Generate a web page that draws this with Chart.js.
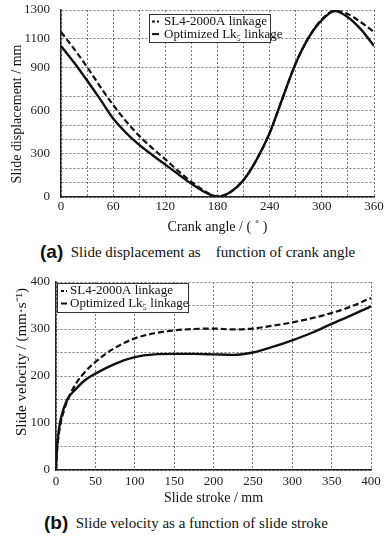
<!DOCTYPE html>
<html>
<head>
<meta charset="utf-8">
<script src="https://cdn.jsdelivr.net/npm/chart.js@4.4.0/dist/chart.umd.min.js"></script>
<style>
  body { margin: 0; background: #fff; width: 392px; height: 540px; position: relative; overflow: hidden; font-family: "Liberation Serif", serif; color: #111; }
  .wrap { position: absolute; left: 0; width: 392px; }
  #wrapA { top: 0; height: 240px; }
  #wrapB { top: 270px; height: 240px; }
  .cap { position: absolute; white-space: pre; font-size: 15px; line-height: 20px; }
  .cap b { font-family: "Liberation Sans", Arial, sans-serif; font-size: 19px; vertical-align: -1px; }
</style>
</head>
<body>
<div class="wrap" id="wrapA"><canvas id="chartA" width="392" height="240"></canvas></div>
<div class="cap" id="capA" style="left:40px;top:242px"><b>(a)</b>  Slide displacement as    function of crank angle</div>
<div class="wrap" id="wrapB"><canvas id="chartB" width="392" height="240"></canvas></div>
<div class="cap" id="capB" style="left:44px;top:513px"><b>(b)</b>  Slide velocity as a function of slide stroke</div>
<script>
// (a) slide displacement vs crank angle
const crankAngle = [0, 15, 30, 45, 60, 75, 90, 105, 120, 135, 150, 165, 180, 195, 210, 225, 240, 255, 270, 285, 300, 315, 330, 345, 360];
const dispSL4 = [1147, 1030, 904, 768, 640, 525, 425, 340, 262, 180, 105, 42, 3, 35, 118, 260, 445, 690, 930, 1110, 1235, 1295, 1272, 1215, 1147];
const dispLk5 = [1050, 935, 810, 680, 545, 445, 362, 292, 225, 158, 92, 35, 3, 35, 118, 260, 445, 690, 930, 1110, 1230, 1292, 1250, 1165, 1050];
const dispGrid = [0, 100, 200, 300, 400, 500, 600, 700, 900, 1100, 1300];
const dispLabels = [0, 300, 600, 900, 1100, 1300];

// (b) slide velocity vs slide stroke
const stroke = [0, 1, 2.5, 5, 10, 15, 25, 36, 50, 75, 100, 125, 150, 175, 200, 225, 250, 275, 300, 325, 350, 375, 400];
const velSL4 = [0, 33, 62, 92, 126, 150, 183, 207, 230, 260, 280, 291, 297, 300, 301, 299, 301, 307, 314, 323, 334, 348, 366];
const velLk5 = [0, 40, 70, 100, 132, 152, 172, 190, 205, 226, 240, 246, 247, 247, 246, 245, 250, 262, 276, 292, 311, 329, 348];

const seriesNames = ['SL4-2000A linkage', 'Optimized Lk\u2085 linkage'];

const SERIF = '"Liberation Serif", "Times New Roman", serif';

const boxLegend = {
  id: 'boxLegend',
  afterDraw(chart, args, o) {
    const ctx = chart.ctx;
    const a = chart.chartArea;
    const x = a.left + o.x, y = a.top + o.y;
    ctx.save();
    ctx.fillStyle = '#fff';
    ctx.fillRect(x, y, o.w, o.h);
    ctx.strokeStyle = '#333';
    ctx.lineWidth = 1;
    ctx.strokeRect(x + 0.5, y + 0.5, o.w, o.h);
    ctx.font = '13px ' + SERIF;
    ctx.textBaseline = 'middle';
    ctx.fillStyle = '#111';
    chart.data.datasets.forEach((ds, i) => {
      const cy = y + o.row0 + i * o.rowH;
      ctx.beginPath();
      ctx.setLineDash(ds.borderDash ? o.dash : []);
      ctx.lineWidth = 2;
      ctx.strokeStyle = ds.borderColor;
      ctx.moveTo(x + o.s0, cy);
      ctx.lineTo(x + o.s1, cy);
      ctx.stroke();
      ctx.setLineDash([]);
      ctx.fillText(ds.label, x + o.tx, cy);
    });
    ctx.restore();
  }
};

const sideTitle = {
  id: 'sideTitle',
  afterDraw(chart, args, o) {
    const ctx = chart.ctx;
    ctx.save();
    ctx.translate(o.x, o.y);
    ctx.rotate(-Math.PI / 2);
    ctx.textAlign = 'center';
    ctx.textBaseline = 'middle';
    ctx.font = o.size + 'px ' + SERIF;
    ctx.fillStyle = '#111';
    ctx.fillText(o.text, 0, 0);
    ctx.restore();
  }
};

function pairs(xs, ys) {
  return xs.map((x, i) => ({ x: x, y: ys[i] }));
}

function makeChart(id, cfg) {
  const fixX = (s) => { s.height = cfg.xHeight; s.paddingLeft = 0; s.paddingRight = 0; };
  const fixY = (s) => { s.width = cfg.yWidth; s.paddingTop = 0; s.paddingBottom = 0; };
  const grid = { color: '#777', lineWidth: 1, drawTicks: false };
  const border = { color: '#222', width: 1.5, dash: [2, 2] };
  return new Chart(document.getElementById(id), {
    type: 'line',
    data: {
      datasets: [
        { label: seriesNames[0], data: pairs(cfg.xs, cfg.ys[0]), borderColor: '#111', borderWidth: 2.2, borderDash: [6, 3], pointRadius: 0, cubicInterpolationMode: 'monotone', fill: false },
        { label: seriesNames[1], data: pairs(cfg.xs, cfg.ys[1]), borderColor: '#111', borderWidth: 2.4, pointRadius: 0, cubicInterpolationMode: 'monotone', fill: false }
      ]
    },
    options: {
      responsive: false,
      animation: false,
      events: [],
      layout: { padding: cfg.padding },
      plugins: {
        legend: { display: false },
        tooltip: { enabled: false },
        boxLegend: cfg.legend,
        sideTitle: cfg.yTitle
      },
      scales: {
        x: {
          type: 'linear', min: cfg.xMin, max: cfg.xMax,
          grid: grid, border: border,
          ticks: {
            stepSize: cfg.xStep, padding: cfg.xPad, color: '#222', font: { family: SERIF, size: 13 },
            maxRotation: 0, autoSkip: false,
            callback: (v) => (v % cfg.xLabelStep === 0 ? String(v) : '')
          },
          title: { display: true, text: cfg.xTitle, color: '#111', font: { family: SERIF, size: 14 }, padding: { top: 0, bottom: cfg.xTitlePad } },
          afterFit: fixX
        },
        y: {
          type: 'linear', min: cfg.yMin, max: cfg.yMax,
          grid: grid, border: border,
          afterBuildTicks: (s) => { s.ticks = cfg.yGrid.map((v) => ({ value: v })); },
          ticks: {
            padding: cfg.yPad, color: '#222', font: { family: SERIF, size: 13 }, autoSkip: false,
            callback: (v) => (cfg.yLabels.includes(v) ? String(v) : '')
          },
          afterFit: fixY
        }
      }
    },
    plugins: [boxLegend, sideTitle]
  });
}

makeChart('chartA', {
  xs: crankAngle, ys: [dispSL4, dispLk5],
  xMin: 0, xMax: 360, xStep: 30, xLabelStep: 60, xPad: 2,
  yMin: 0, yMax: 1300, yGrid: dispGrid, yLabels: dispLabels, yPad: 11,
  padding: { top: 10, right: 18, left: 0, bottom: 0 },
  xHeight: 43, yWidth: 61, xTitlePad: 4,
  xTitle: 'Crank angle / ( \u02DA )',
  yTitle: { text: 'Slide displacement / mm', x: 17, y: 114, size: 14 },
  legend: { x: 88, y: 4, w: 121, h: 28, row0: 7.5, rowH: 12.6, s0: 3, s1: 10, tx: 15, dash: [3, 2] }
});

makeChart('chartB', {
  xs: stroke, ys: [velSL4, velLk5],
  xMin: 0, xMax: 400, xStep: 50, xLabelStep: 50, xPad: 4,
  yMin: 0, yMax: 400, yGrid: [0, 50, 100, 150, 200, 250, 300, 350, 400], yLabels: [0, 100, 200, 300, 400], yPad: 6,
  padding: { top: 12, right: 21, left: 0, bottom: 0 },
  xHeight: 40, yWidth: 56, xTitlePad: 3,
  xTitle: 'Slide stroke / mm',
  yTitle: { text: 'Slide velocity / (mm\u00B7s\u207B\u00B9)', x: 22, y: 92, size: 15 },
  legend: { x: 1, y: 1, w: 131, h: 29, row0: 8, rowH: 12.5, s0: 4, s1: 10, tx: 13, dash: [3, 2] }
});
</script>
</body>
</html>
